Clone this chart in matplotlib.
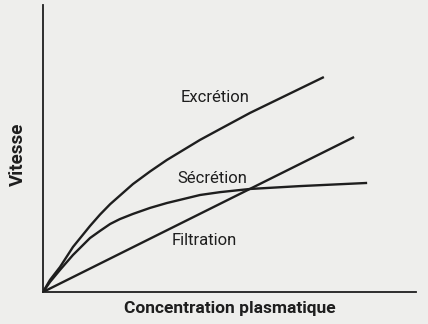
import matplotlib
matplotlib.use("Agg")
import matplotlib.pyplot as plt

# values (arbitrary units, 0-100 on both axes)
filtration_x = [0, 83.4]
filtration_y = [0, 54.0]

secretion_x = [0, 1.88, 4.56, 8.04, 12.6, 15.3, 18.0, 20.6, 24.1, 28.7, 33.2, 42.1, 47.5, 55.5, 68.9, 86.9]
secretion_y = [0, 3.5, 7.7, 12.9, 18.8, 21.3, 23.7, 25.4, 27.2, 29.3, 31.0, 33.8, 34.8, 35.9, 36.9, 38.0]

excretion_x = [0, 1.88, 4.56, 8.04, 12.6, 15.3, 18.0, 24.1, 28.7, 33.2, 42.1, 47.5, 55.5, 75.3]
excretion_y = [0, 4.2, 8.7, 15.7, 23.0, 27.0, 30.6, 37.6, 42.0, 46.0, 53.0, 56.8, 62.4, 74.9]

labels = ["Excrétion", "Sécrétion", "Filtration"]
label_pos = [(37.0, 67.7), (36.0, 39.7), (34.5, 18.1)]

bg = "#eeeeec"
ink = "#1e1e1e"
font = ["Roboto", "DejaVu Sans"]

fig = plt.figure(figsize=(4.28, 3.24), dpi=100, facecolor=bg)
ax = fig.add_axes([43 / 428, 32 / 324, 373 / 428, 287 / 324])
ax.set_facecolor(bg)

for xs, ys in [(filtration_x, filtration_y), (secretion_x, secretion_y), (excretion_x, excretion_y)]:
    ax.plot(xs, ys, color=ink, lw=1.7, solid_capstyle="butt", solid_joinstyle="round")

for text, (x, y) in zip(labels, label_pos):
    ax.text(x, y, text, fontsize=12, color=ink, family=font, ha="left", va="center")

ax.set_xlim(0, 100)
ax.set_ylim(0, 100)
ax.set_xticks([])
ax.set_yticks([])
for side in ["top", "right"]:
    ax.spines[side].set_visible(False)
for side in ["left", "bottom"]:
    ax.spines[side].set_color(ink)
    ax.spines[side].set_linewidth(1.3)

fig.text(18 / 428, 1 - 154 / 324, "Vitesse", rotation=90, fontsize=13.5, fontweight="bold",
         family=font, color=ink, ha="center", va="center")
fig.text(230 / 428, 1 - 308 / 324, "Concentration plasmatique", fontsize=12.5, fontweight="bold",
         family=font, color=ink, ha="center", va="center")

fig.savefig("out.png", dpi=100, facecolor=bg)
